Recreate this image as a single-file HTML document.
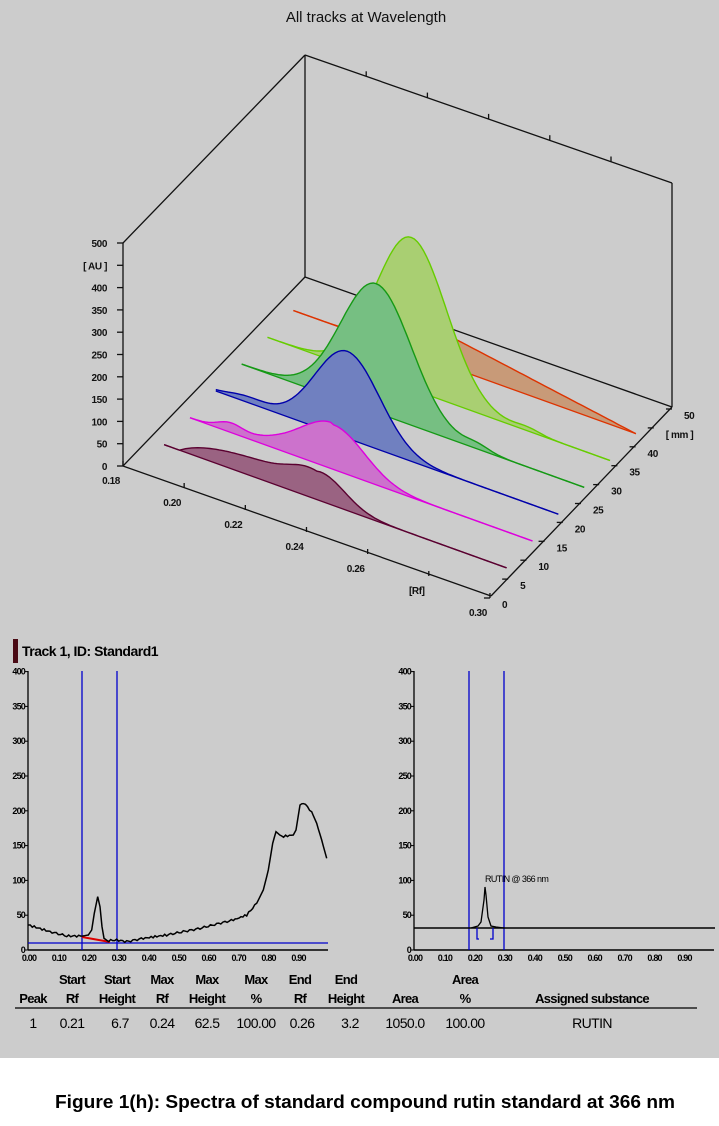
<!DOCTYPE html>
<html><head><meta charset="utf-8"><style>
html,body{margin:0;padding:0;background:#fff}
svg{display:block;font-family:"Liberation Sans",Arial,sans-serif}
</style></head><body>
<svg id="s" width="719" height="1126" xmlns="http://www.w3.org/2000/svg">
<rect x="0" y="0" width="719" height="1058" fill="#cccccc"/>
<text x="366" y="22" font-size="15" text-anchor="middle" fill="#111">All tracks at Wavelength</text>
<g id="frame" stroke="#111" stroke-width="1.3" fill="none">
<line x1="123" y1="243" x2="123" y2="466"/>
<line x1="123" y1="243" x2="305" y2="55"/>
<line x1="123" y1="466" x2="305" y2="277"/>
<line x1="305" y1="55" x2="305" y2="277"/>
<line x1="305" y1="55" x2="672" y2="183"/>
<line x1="305" y1="277" x2="672" y2="407"/>
<line x1="672" y1="183" x2="672" y2="407"/>
<line x1="123" y1="466" x2="491" y2="596"/>
<line x1="491" y1="596" x2="672" y2="407"/>
</g>
<g id="g3d"></g>
<g id="lab3d" font-size="10" font-weight="bold" fill="#111" letter-spacing="-0.4"></g>
<g id="bottom"></g>
<text x="365" y="1108" font-size="18" font-weight="bold" text-anchor="middle" fill="#000" textLength="620" lengthAdjust="spacingAndGlyphs">Figure 1(h): Spectra of standard compound rutin standard at 366 nm</text>
</svg>
<script>
var NS="http://www.w3.org/2000/svg";
function el(p,t,a,txt){var e=document.createElementNS(NS,t);for(var k in a)e.setAttribute(k,a[k]);if(txt!==undefined)e.textContent=txt;p.appendChild(e);return e;}
var g3=document.getElementById('g3d'),lab=document.getElementById('lab3d'),fr=document.getElementById('frame');
function P(rf,mm,au){return [123+(rf-0.18)*3058+mm*3.64, 466+(rf-0.18)*1100-mm*3.78-au*0.446];}
for(var i=0;i<=10;i++){var y=466-i*22.3;el(fr,'line',{x1:117,y1:y,x2:123,y2:y});
 el(lab,'text',{x:107,y:y+4,'text-anchor':'end'}, i==9?'[ AU ]':String(i*50));}
var rfl=['0.18','0.20','0.22','0.24','0.26','[Rf]','0.30'];
for(var i=0;i<=6;i++){var p=P(0.18+i*0.02,0,0);el(fr,'line',{x1:p[0],y1:p[1],x2:p[0],y2:p[1]-5});
 el(lab,'text',{x:p[0]-12,y:p[1]+18,'text-anchor':'middle'},rfl[i]);}
var mml=['0','5','10','15','20','25','30','35','40','[ mm ]','50'];
for(var i=0;i<=10;i++){var p=P(0.30,i*5,0);el(fr,'line',{x1:p[0],y1:p[1],x2:p[0]-6,y2:p[1]});
 el(lab,'text',{x:p[0]+12,y:p[1]+10,'text-anchor':'start'},mml[i]);}
for(var i=1;i<=5;i++){var x=305+i*61.2,y=55+i*21.3;el(fr,'line',{x1:x,y1:y,x2:x,y2:y-5});}
function gauss(r,c,s,h){return h*Math.exp(-Math.pow((r-c)/s,2)/2);}
var tracks=[
 {mm:42.6,f:function(r){return r<0.235?gauss(r,0.235,0.012,70):70*Math.max(0,(0.297-r)/0.062);},fill:'#c89a78',st:'#dd3300'},
 {mm:35.5,f:function(r){return gauss(r,0.232,0.0115,340)+gauss(r,0.27,0.004,8);},fill:'#a9cf72',st:'#66cc00'},
 {mm:28.4,f:function(r){return gauss(r,0.229,0.0115,289)+gauss(r,0.262,0.004,10);},fill:'#76bf82',st:'#159915'},
 {mm:21.3,f:function(r){return gauss(r,0.228,0.0105,195)+gauss(r,0.195,0.006,12);},fill:'#7080c0',st:'#0000aa'},
 {mm:14.2,f:function(r){return gauss(r,0.232,0.010,100)+gauss(r,0.198,0.004,18)+(r<0.232?gauss(r,0.215,0.01,15):0);},fill:'#cc72cc',st:'#dd00dd'},
 {mm:7.1,f:function(r){return (r<0.236? Math.max(0,45*(1-Math.exp(-(r-0.19)/0.01)))+gauss(r,0.232,0.006,22):65*Math.exp(-Math.pow((r-0.236)/0.008,2)/2));},fill:'#9a6382',st:'#5a0030'}
];
tracks.forEach(function(t){
 var top=[];
 for(var r=0.185;r<=0.2971;r+=0.001){var p=P(r,t.mm,Math.max(0,t.f(r)));top.push(p[0].toFixed(1)+','+p[1].toFixed(1));}
 var b0=P(0.185,t.mm,0),b1=P(0.297,t.mm,0);
 el(g3,'polygon',{points:top.join(' ')+' '+b1[0]+','+b1[1]+' '+b0[0]+','+b0[1],fill:t.fill,stroke:'none'});
 el(g3,'line',{x1:b0[0],y1:b0[1],x2:b1[0],y2:b1[1],stroke:t.st,'stroke-width':1.3});
 el(g3,'polyline',{points:top.join(' '),fill:'none',stroke:t.st,'stroke-width':1.4});
});
var B=document.getElementById('bottom');
el(B,'rect',{x:13,y:639,width:5,height:24,fill:'#4a0a14'});
el(B,'text',{x:22,y:656,'font-size':14,'font-weight':'bold',fill:'#000','letter-spacing':'-0.5'},'Track 1, ID: Standard1');
function axes(x0,x1){
 el(B,'line',{x1:x0,y1:671,x2:x0,y2:950,stroke:'#000','stroke-width':1.3});
 el(B,'line',{x1:x0,y1:950,x2:x1,y2:950,stroke:'#000','stroke-width':1.5});
 for(var i=0;i<=8;i++){var y=950-i*34.8;el(B,'line',{x1:x0-3,y1:y,x2:x0,y2:y,stroke:'#000'});
  el(B,'text',{x:x0-3,y:y+3,'font-size':9,'font-weight':'bold','text-anchor':'end',fill:'#000','letter-spacing':'-0.8'},String(i*50));}
 for(var i=0;i<=9;i++){var x=x0+i*29.95;
  el(B,'text',{x:x+1,y:961,'font-size':9,'font-weight':'bold','text-anchor':'middle',fill:'#000','letter-spacing':'-0.8'},(i/10).toFixed(2));}
}
axes(28,328);axes(414,714);
el(B,'line',{x1:82,y1:671,x2:82,y2:950,stroke:'#0000cc','stroke-width':1.3});
el(B,'line',{x1:117,y1:671,x2:117,y2:950,stroke:'#0000cc','stroke-width':1.3});
el(B,'line',{x1:28,y1:943,x2:328,y2:943,stroke:'#0000cc','stroke-width':1.3});
el(B,'line',{x1:82,y1:937,x2:110,y2:942,stroke:'#dd0000','stroke-width':2});
var z=[[85,885],[150,905],[200,918],[248,918],[265,915],[275,900],[283,850],[293,800],[300,830],[306,890],[312,925],[320,932],[350,930],[380,935],[430,925],[500,915],[550,905],[600,895],[650,882],[700,870],[740,855],[770,820],[790,780],[805,720],[818,640],[828,605],[845,620],[880,615],[888,600],[900,525],[910,518],[935,545],[950,580],[965,630],[980,685]];
var pts=[];
for(var i=0;i<z.length-1;i++){var a=z[i],b=z[i+1],n=Math.max(1,Math.round((b[0]-a[0])/6));
 for(var k=0;k<n;k++){var t=k/n,x=a[0]+(b[0]-a[0])*t,y=a[1]+(b[1]-a[1])*t;var j=(b[0]-a[0]>20)?Math.sin(x*1.7)*3:0;
  pts.push((x/3).toFixed(1)+','+(630+(y+j)/3).toFixed(1));}}
pts.push((980/3).toFixed(1)+','+(630+685/3).toFixed(1));
el(B,'polyline',{points:pts.join(' '),fill:'none',stroke:'#000','stroke-width':1.5});
el(B,'line',{x1:469,y1:671,x2:469,y2:950,stroke:'#0000cc','stroke-width':1.3});
el(B,'line',{x1:504,y1:671,x2:504,y2:950,stroke:'#0000cc','stroke-width':1.3});
el(B,'line',{x1:414,y1:928,x2:715,y2:928,stroke:'#000','stroke-width':1.5});
el(B,'polyline',{points:'471,928 478,926 481,922 484,900 485,887 486,895 488,917 491,926 496,927 504,928',fill:'none',stroke:'#000','stroke-width':1.3});
el(B,'polyline',{points:'477,928 477,939 479,939',fill:'none',stroke:'#0000cc','stroke-width':1.3});
el(B,'polyline',{points:'490,939 493,939 493,928',fill:'none',stroke:'#0000cc','stroke-width':1.3});
el(B,'text',{x:485,y:882,'font-size':9,fill:'#000','letter-spacing':'-0.6'},'RUTIN @ 366 nm');
var hs=[[33,'','Peak'],[72,'Start','Rf'],[117,'Start','Height'],[162,'Max','Rf'],[207,'Max','Height'],[256,'Max','%'],[300,'End','Rf'],[346,'End','Height'],[405,'','Area'],[465,'Area','%'],[592,'','Assigned substance']];
hs.forEach(function(h){
 if(h[1])el(B,'text',{x:h[0],y:984,'font-size':13,'font-weight':'bold','text-anchor':'middle',fill:'#000','letter-spacing':'-0.7'},h[1]);
 el(B,'text',{x:h[0],y:1003,'font-size':13,'font-weight':'bold','text-anchor':'middle',fill:'#000','letter-spacing':'-0.7'},h[2]);});
el(B,'line',{x1:15,y1:1008,x2:697,y2:1008,stroke:'#000','stroke-width':1.2});
var ds=[[33,'1'],[72,'0.21'],[120,'6.7'],[162,'0.24'],[207,'62.5'],[256,'100.00'],[302,'0.26'],[350,'3.2'],[405,'1050.0'],[465,'100.00'],[592,'RUTIN']];
ds.forEach(function(d){el(B,'text',{x:d[0],y:1028,'font-size':14,'text-anchor':'middle',fill:'#000','letter-spacing':'-0.6'},d[1]);});
</script>
</body></html>
